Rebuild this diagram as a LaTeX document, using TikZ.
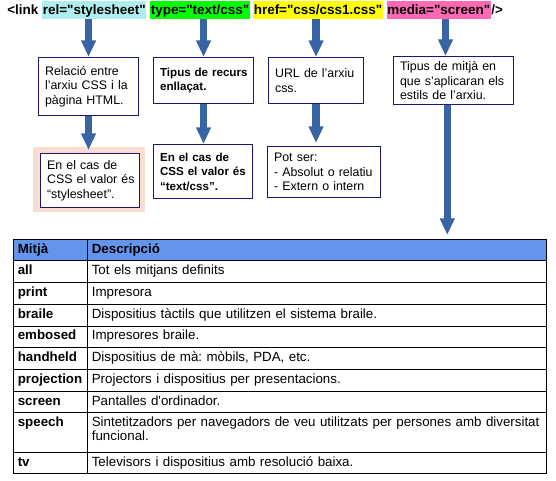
\documentclass[tikz,border=0pt]{standalone}
\usepackage{fontspec}
\setmainfont{Liberation Sans}
\usetikzlibrary{arrows.meta}
\definecolor{arrowblue}{RGB}{56,100,166}
\definecolor{boxblue}{RGB}{25,25,112}
\definecolor{hlcyan}{RGB}{175,238,238}
\definecolor{hlgreen}{RGB}{0,255,0}
\definecolor{hlyellow}{RGB}{255,255,0}
\definecolor{hlpink}{RGB}{255,105,180}
\definecolor{peach}{RGB}{250,221,210}
\definecolor{headblue}{RGB}{100,149,237}
\newcommand\boxline[1]{\mbox{#1}}
\newcommand\dq{\textquotedbl}
\frenchspacing
\begin{document}
\begin{tikzpicture}[x=0.75pt,y=-0.75pt,
 hl/.style={font=\bfseries\fontsize{10.1}{12}\selectfont, inner xsep=0.4pt, inner ysep=0pt, text height=10.5pt, text depth=3pt, anchor=base west},
 plaintop/.style={font=\bfseries\fontsize{10.1}{12}\selectfont, inner sep=0pt, anchor=base west},
 infobox/.style={draw=boxblue, line width=0.8pt, fill=white, anchor=north west, inner xsep=4.9pt, inner ysep=0pt, align=left, font=\fontsize{9.3}{10.9}\selectfont},
 boldbox/.style={infobox, font=\bfseries\fontsize{8.7}{10.9}\selectfont},
 bigarrow/.style={draw=arrowblue, line width=5.6pt, -{Triangle[length=12.5pt,width=10.5pt]}},
 cell/.style={draw=black, line width=0.75pt, anchor=north west, inner xsep=3pt, inner ysep=0pt, align=left, font=\fontsize{10}{10.5}\selectfont, text height=7.2pt, text depth=2.5pt, minimum height=16.275pt},
 mcell/.style={cell, font=\bfseries\fontsize{10}{10.5}\selectfont, minimum width=55.5pt, text width=49.5pt},
 dcell/.style={cell, minimum width=344pt, text width=338pt},
 tallrow/.style={minimum height=29.55pt, text height=10.5pt, text depth=19.05pt},
]
\useasboundingbox (0,0) rectangle (556,481);

% top line
\node[plaintop] (lnk) at (7,15) {<link};
\node[hl, fill=hlcyan] (rel) at (42,15) {rel=\dq stylesheet\dq};
\node[hl, fill=hlgreen] (type) at (150,15) {type=\dq text/css\dq};
\node[hl, fill=hlyellow] (href) at (253,15) {href=\dq css/css1.css\dq};
\node[hl, fill=hlpink] (media) at (386.5,15) {media=\dq screen\dq};
\node[plaintop] (close) at (media.base east) {/>};

% first row of boxes
\node[infobox, minimum width=75pt, minimum height=43.5pt, text width=65.2pt] (b1) at (38,57)
  {\boxline{Relació entre}\\\boxline{l’arxiu CSS i la}\\\boxline{pàgina HTML.}};
\node[boldbox, minimum width=75pt, minimum height=34.5pt, text width=65.2pt] (b2) at (153,57)
  {\boxline{Tipus de recurs}\\\boxline{enllaçat.}};
\node[infobox, minimum width=71.25pt, minimum height=34.5pt, text width=61.45pt] (b3) at (268,57)
  {\boxline{URL de l’arxiu}\\\boxline{css.}};
\node[infobox, minimum width=90pt, minimum height=36pt, text width=80.2pt] (b4) at (393,56)
  {\boxline{Tipus de mitjà en}\\\boxline{que s’aplicaran els}\\\boxline{estils de l’arxiu.}};

% second row of boxes
\node[fill=peach, anchor=north west, inner sep=0pt, minimum width=84pt, minimum height=48.75pt] (c1bg) at (33,147) {};
\node[infobox, minimum width=74.25pt, minimum height=40.5pt, text width=64.45pt] (c1) at (40,153)
  {\boxline{En el cas de}\\\boxline{CSS el valor és}\\\boxline{“stylesheet”.}};
\node[boldbox, minimum width=74.25pt, minimum height=40.5pt, text width=64.45pt] (c2) at (153,144)
  {\boxline{En el cas de}\\\boxline{CSS el valor és}\\\boxline{“text/css”.}};
\node[infobox, minimum width=84.75pt, minimum height=38.25pt, text width=74.95pt] (c3) at (267,146)
  {\boxline{Pot ser:}\\\boxline{- Absolut o relatiu}\\\boxline{- Extern o intern}};

% table
\node[mcell, fill=headblue] (m0) at (13.3,238.7) {Mitjà};
\node[dcell, fill=headblue, font=\bfseries\fontsize{10}{10.5}\selectfont] (d0) at (87.3,238.7) {Descripció};
\node[mcell] (m1) at (13.3,260.4) {all};
\node[dcell] (d1) at (87.3,260.4) {Tot els mitjans definits};
\node[mcell] (m2) at (13.3,282.1) {print};
\node[dcell] (d2) at (87.3,282.1) {Impresora};
\node[mcell] (m3) at (13.3,303.8) {braile};
\node[dcell] (d3) at (87.3,303.8) {Dispositius tàctils que utilitzen el sistema braile.};
\node[mcell] (m4) at (13.3,325.5) {embosed};
\node[dcell] (d4) at (87.3,325.5) {Impresores braile.};
\node[mcell] (m5) at (13.3,347.2) {handheld};
\node[dcell] (d5) at (87.3,347.2) {Dispositius de mà: mòbils, PDA, etc.};
\node[mcell] (m6) at (13.3,368.9) {projection};
\node[dcell] (d6) at (87.3,368.9) {Projectors i dispositius per presentacions.};
\node[mcell] (m7) at (13.3,390.6) {screen};
\node[dcell] (d7) at (87.3,390.6) {Pantalles d\textquotesingle ordinador.};
\node[mcell, tallrow] (m8) at (13.3,412.3) {speech};
\node[dcell, tallrow] (d8) at (87.3,412.3) {\mbox{Sintetitzadors per navegadors de veu utilitzats per persones amb diversitat}\\funcional.};
\node[mcell] (m9) at (13.3,451.7) {tv};
\node[dcell] (d9) at (87.3,451.7) {Televisors i dispositius amb resolució baixa.};

% arrows
\coordinate (t4) at ([xshift=-6pt]b4.north);
\coordinate (s4) at ([xshift=-4.7pt]b4.south);
\draw[bigarrow] (rel.south -| b1.north) -- (b1.north);
\draw[bigarrow] (type.south -| b2.north) -- (b2.north);
\draw[bigarrow] (href.south -| b3.north) -- (b3.north);
\draw[bigarrow] (media.south -| t4) -- (t4);
\draw[bigarrow, shorten >=2.25pt] (b1.south) -- (b1.south |- c1.north);
\draw[bigarrow] (b2.south) -- (b2.south |- c2.north);
\draw[bigarrow, shorten >=2.25pt] (b3.south) -- (b3.south |- c3.north);
\draw[bigarrow, shorten >=2.8pt] (s4) -- (s4 |- d0.north);
\end{tikzpicture}
\end{document}
